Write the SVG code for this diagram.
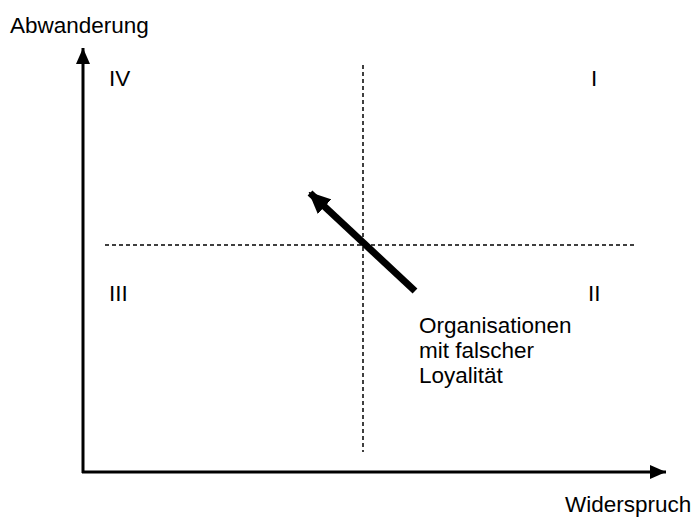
<svg xmlns="http://www.w3.org/2000/svg" width="698" height="521" viewBox="0 0 698 521">
<style>
text{font-family:"Liberation Sans",Arial,sans-serif;font-size:22.5px;fill:#000}
.axis{stroke:#000;stroke-width:3;fill:none}
.dash{stroke:#000;stroke-width:1.5;stroke-dasharray:4 3;fill:none}
</style>
<defs>
<marker id="ah" markerUnits="userSpaceOnUse" markerWidth="16" markerHeight="14" refX="16" refY="7" orient="auto"><path d="M0,0 L16,7 L0,14 Z" fill="#000"/></marker>
<marker id="ah2" markerUnits="userSpaceOnUse" markerWidth="22" markerHeight="20" refX="20" refY="10" orient="auto"><path d="M0,0 L22,10 L0,20 Z" fill="#000"/></marker>
</defs>
<g id="connectors">
<line class="axis" x1="83" y1="473" x2="83" y2="48" marker-end="url(#ah)"/>
<line class="axis" x1="82" y1="472" x2="666" y2="472" marker-end="url(#ah)"/>
<line class="dash" x1="363" y1="65" x2="363" y2="452"/>
<line class="dash" x1="105" y1="245" x2="636" y2="245"/>
<line stroke="#000" stroke-width="7" x1="415" y1="291" x2="310" y2="193" marker-end="url(#ah2)"/>
</g>
<g id="labels">
<text x="10" y="33">Abwanderung</text>
<text x="565" y="512">Widerspruch</text>
<text x="109" y="86">IV</text>
<text x="591" y="86">I</text>
<text x="109" y="301">III</text>
<text x="588" y="301">II</text>
<text x="419" y="333">Organisationen</text>
<text x="419" y="358">mit falscher</text>
<text x="419" y="383">Loyalität</text>
</g>
</svg>
